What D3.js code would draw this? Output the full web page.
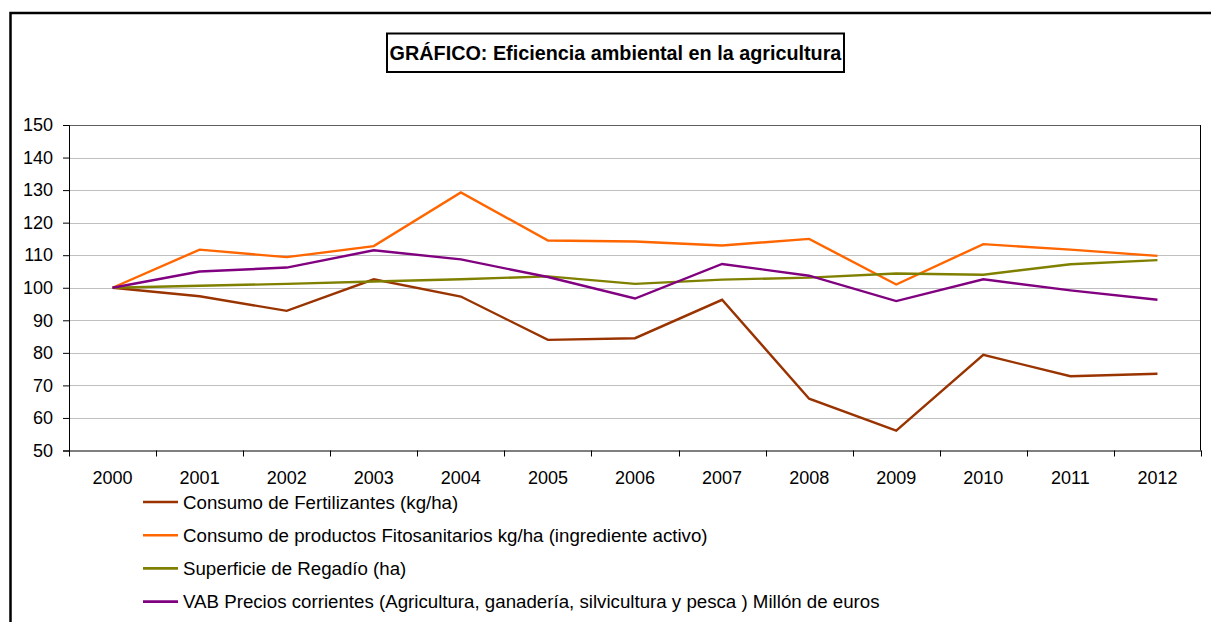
<!DOCTYPE html>
<html>
<head>
<meta charset="utf-8">
<script src="https://cdn.jsdelivr.net/npm/d3@7"></script>
<style>
  html, body { margin: 0; padding: 0; background: #fff; }
  svg { display: block; font-family: Arial, "Liberation Sans", sans-serif; }
</style>
</head>
<body>
<svg id="chart" width="1211" height="622"></svg>
<script>
const title = "GRÁFICO: Eficiencia ambiental en la agricultura";
const years = ["2000","2001","2002","2003","2004","2005","2006","2007","2008","2009","2010","2011","2012"];
const yTicks = [50,60,70,80,90,100,110,120,130,140,150];

const fertilizantes = [100, 97.4, 92.9, 102.6, 97.3, 84.0, 84.5, 96.3, 65.9, 56.1, 79.4, 72.8, 73.6];
const fitosanitarios = [100, 111.7, 109.4, 112.8, 129.3, 114.5, 114.2, 113.0, 115.0, 101.0, 113.4, 111.7, 109.8];
const regadio = [100, 100.6, 101.2, 101.9, 102.6, 103.5, 101.2, 102.5, 103.1, 104.4, 104.0, 107.2, 108.5];
const vab = [100, 105.0, 106.2, 111.5, 108.7, 103.3, 96.7, 107.3, 103.7, 95.9, 102.6, 99.2, 96.3];

const seriesNames = [
  "Consumo de Fertilizantes (kg/ha)",
  "Consumo de productos Fitosanitarios kg/ha (ingrediente activo)",
  "Superficie de Regadío (ha)",
  "VAB Precios corrientes (Agricultura, ganadería, silvicultura y pesca ) Millón de euros"
];
const seriesColors = ["#993300", "#FF6600", "#808000", "#800080"];
const seriesValues = [fertilizantes, fitosanitarios, regadio, vab];

const svg = d3.select("#chart");

// outer frame
svg.append("rect")
  .attr("x", 10.5).attr("y", 13).attr("width", 1400).attr("height", 800)
  .attr("fill", "none").attr("stroke", "#000").attr("stroke-width", 2.5);

// title box
svg.append("rect")
  .attr("x", 387).attr("y", 33.5).attr("width", 457).attr("height", 38.5)
  .attr("fill", "#fff").attr("stroke", "#000").attr("stroke-width", 2);
svg.append("text")
  .attr("x", 615.5).attr("y", 59.5)
  .attr("text-anchor", "middle")
  .attr("font-weight", "bold").attr("font-size", 19.8)
  .attr("fill", "#000")
  .text(title);

const plot = {left: 69, right: 1201, top: 125, bottom: 450.5};
const x = d3.scaleBand().domain(years).range([plot.left, plot.right]);
const y = d3.scaleLinear().domain([50, 150]).range([plot.bottom, plot.top]);

// gridlines
svg.append("g").selectAll("line")
  .data(yTicks.filter(t => t > 50 && t < 150))
  .join("line")
  .attr("x1", plot.left).attr("x2", plot.right)
  .attr("y1", d => Math.round(y(d)) + 0.5).attr("y2", d => Math.round(y(d)) + 0.5)
  .attr("stroke", "#C0C0C0").attr("stroke-width", 1);

// plot frame top/right
svg.append("line").attr("x1", plot.left).attr("x2", plot.right)
  .attr("y1", plot.top + 0.5).attr("y2", plot.top + 0.5)
  .attr("stroke", "#606060").attr("stroke-width", 1);
svg.append("line").attr("x1", plot.right - 0.5).attr("x2", plot.right - 0.5)
  .attr("y1", plot.top).attr("y2", plot.bottom)
  .attr("stroke", "#000").attr("stroke-width", 1);

// y axis
const yAxis = svg.append("g")
  .attr("transform", `translate(${plot.left},0)`)
  .call(d3.axisLeft(y).tickValues(yTicks).tickSize(6).tickPadding(10).tickFormat(d3.format("d")));
yAxis.select(".domain").attr("stroke", "#000");
yAxis.selectAll(".tick line").attr("stroke", "#000");
yAxis.selectAll("text").attr("font-size", 18).attr("fill", "#000")
  .attr("font-family", "Arial, 'Liberation Sans', sans-serif");

// x axis
const xAxis = svg.append("g")
  .attr("transform", `translate(0,${plot.bottom})`)
  .call(d3.axisBottom(x).tickSize(0).tickPadding(21));
xAxis.select(".domain").attr("stroke", "#000");
xAxis.selectAll("text").attr("font-size", 18).attr("fill", "#000")
  .attr("font-family", "Arial, 'Liberation Sans', sans-serif");
// band boundary ticks
const bounds = years.map(d => x(d)).concat([x(years[years.length - 1]) + x.bandwidth()]);
svg.append("g").selectAll("line").data(bounds).join("line")
  .attr("x1", d => Math.round(d) + 0.5).attr("x2", d => Math.round(d) + 0.5)
  .attr("y1", plot.bottom).attr("y2", plot.bottom + 6)
  .attr("stroke", "#000").attr("stroke-width", 1);

// lines
const line = d3.line()
  .x((d, i) => x(years[i]) + x.bandwidth() / 2)
  .y(d => y(d));
seriesValues.forEach((vals, k) => {
  svg.append("path")
    .datum(vals)
    .attr("fill", "none")
    .attr("stroke", seriesColors[k])
    .attr("stroke-width", 2.4)
    .attr("stroke-linejoin", "miter")
    .attr("d", line);
});

// legend
const legendY0 = 502, legendStep = 33.2;
const lg = svg.append("g");
seriesNames.forEach((name, k) => {
  const yy = legendY0 + k * legendStep;
  lg.append("line")
    .attr("x1", 143).attr("x2", 178).attr("y1", yy).attr("y2", yy)
    .attr("stroke", seriesColors[k]).attr("stroke-width", 2.6);
  lg.append("text")
    .attr("x", 183).attr("y", yy).attr("dy", "0.35em")
    .attr("font-size", 18.7).attr("fill", "#000")
    .text(name);
});
</script>
</body>
</html>
